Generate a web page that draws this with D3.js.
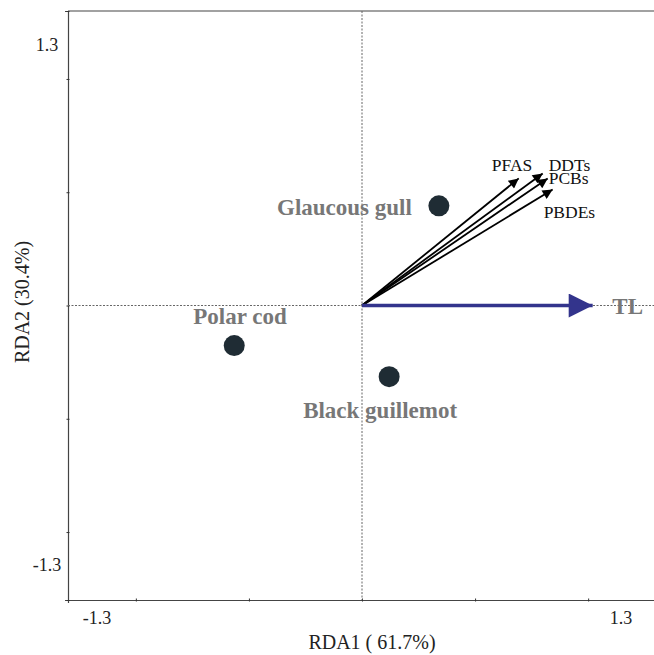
<!DOCTYPE html>
<html>
<head>
<meta charset="utf-8">
<script src="https://cdn.jsdelivr.net/npm/d3@7"></script>
<style>
  body { margin: 0; background: #fff; }
  svg { font-family: "Liberation Serif", "Times New Roman", serif; }
</style>
</head>
<body>
<svg id="chart" width="654" height="655"></svg>
<script>
// species scores
const species = ['Glaucous gull', 'Polar cod', 'Black guillemot'];
const speciesX = [0.34, -0.565, 0.12];
const speciesY = [0.44, -0.177, -0.314];

// contaminant / explanatory vectors
const vectors = ['PFAS', 'DDTs', 'PCBs', 'PBDEs'];
const vectorX = [0.693, 0.799, 0.821, 0.843];
const vectorY = [0.561, 0.583, 0.561, 0.512];
const tlVector = { name: 'TL', x: 1.02, y: 0 };

const tickValues = [-1, -0.5, 0, 0.5, 1];
const tickLabels = ['-1.3', '1.3'];

const svg = d3.select('#chart');
const x = d3.scaleLinear().domain([-1.3, 1.3]).range([68, 656]);
const y = d3.scaleLinear().domain([-1.3, 1.3]).range([600, 11]);

// frame lines (left + bottom axes, top line)
svg.append('line').attr('x1', 68).attr('x2', 654).attr('y1', 11).attr('y2', 11)
  .attr('stroke', '#444').attr('stroke-width', 1.2);

const xAxis = svg.append('g').attr('transform', 'translate(0,600)')
  .call(d3.axisBottom(x).tickValues(tickValues).tickSize(3).tickFormat(''));
const yAxis = svg.append('g').attr('transform', 'translate(68,0)')
  .call(d3.axisLeft(y).tickValues(tickValues.concat([1.3, -1.3])).tickSize(3).tickFormat(''));
[xAxis, yAxis].forEach(a => {
  a.select('.domain').attr('stroke', '#444').attr('stroke-width', 1.2);
  a.selectAll('.tick line').attr('stroke', '#333')
    .attr('transform', a === xAxis ? 'translate(0,-1.5)' : 'translate(1.5,0)');
});

// tick labels (offset like in original figure)
const tickText = (tx, ty, s) => svg.append('text').attr('x', tx).attr('y', ty)
  .attr('text-anchor', 'middle').attr('font-size', 18).attr('fill', '#222').text(s);
tickText(97, 624, tickLabels[0]);
tickText(621, 624, tickLabels[1]);
tickText(47, 51, tickLabels[1]);
tickText(47, 571, tickLabels[0]);

// axis titles
svg.append('text').attr('x', 372).attr('y', 649).attr('text-anchor', 'middle')
  .attr('font-size', 20).attr('fill', '#222').text('RDA1 ( 61.7%)');
svg.append('text').attr('transform', 'translate(29,302) rotate(-90)').attr('text-anchor', 'middle')
  .attr('font-size', 20).attr('fill', '#222').text('RDA2 (30.4%)');

// zero reference lines
svg.append('line').attr('x1', x(0)).attr('x2', x(0)).attr('y1', 11).attr('y2', 600)
  .attr('stroke', '#666').attr('stroke-width', 1).attr('stroke-dasharray', '2,1.5');
svg.append('line').attr('x1', 68).attr('x2', 654).attr('y1', y(0)).attr('y2', y(0))
  .attr('stroke', '#666').attr('stroke-width', 1).attr('stroke-dasharray', '2,1.5');

// arrow markers
const defs = svg.append('defs');
defs.append('marker').attr('id', 'headBlack').attr('viewBox', '0 0 10 10')
  .attr('refX', 10).attr('refY', 5).attr('markerWidth', 15).attr('markerHeight', 10)
  .attr('markerUnits', 'userSpaceOnUse').attr('orient', 'auto')
  .append('path').attr('d', 'M0,0L10,5L0,10Z').attr('fill', '#000');
defs.append('marker').attr('id', 'headBlue').attr('viewBox', '0 0 10 10')
  .attr('refX', 10).attr('refY', 5).attr('markerWidth', 32).attr('markerHeight', 24)
  .attr('markerUnits', 'userSpaceOnUse').attr('orient', 'auto')
  .append('path').attr('d', 'M0,0L10,5L0,10Z').attr('fill', '#33348c');

svg.selectAll('.vec').data(vectors).enter().append('line')
  .attr('class', 'vec')
  .attr('x1', x(0)).attr('y1', y(0))
  .attr('x2', (d, i) => x(vectorX[i])).attr('y2', (d, i) => y(vectorY[i]))
  .attr('stroke', '#000').attr('stroke-width', 1.8)
  .attr('marker-end', 'url(#headBlack)');

const vecLabelPos = [[-27, -7], [6, -2], [1, 6], [-9, 28]];
svg.selectAll('.veclab').data(vectors).enter().append('text')
  .attr('x', (d, i) => x(vectorX[i]) + vecLabelPos[i][0])
  .attr('y', (d, i) => y(vectorY[i]) + vecLabelPos[i][1])
  .attr('font-size', 17.5).attr('fill', '#111').text(d => d);

svg.append('line').attr('x1', x(0)).attr('y1', y(0))
  .attr('x2', x(tlVector.x)).attr('y2', y(tlVector.y))
  .attr('stroke', '#33348c').attr('stroke-width', 3.5)
  .attr('marker-end', 'url(#headBlue)');
svg.append('text').attr('x', x(tlVector.x) + 35).attr('y', y(0) + 8).attr('text-anchor', 'middle')
  .attr('font-size', 23).attr('font-weight', 'bold').attr('fill', '#777').text(tlVector.name);

// species points
svg.selectAll('.pt').data(species).enter().append('circle')
  .attr('cx', (d, i) => x(speciesX[i])).attr('cy', (d, i) => y(speciesY[i]))
  .attr('r', 10.5).attr('fill', '#1f2c34');

const spLabelPos = [[-27, 9, 'end'], [-41, -22, 'start'], [-86, 41, 'start']];
svg.selectAll('.splab').data(species).enter().append('text')
  .attr('x', (d, i) => x(speciesX[i]) + spLabelPos[i][0])
  .attr('y', (d, i) => y(speciesY[i]) + spLabelPos[i][1])
  .attr('text-anchor', (d, i) => spLabelPos[i][2])
  .attr('font-size', 23).attr('font-weight', 'bold').attr('fill', '#777').text(d => d);
</script>
</body>
</html>
